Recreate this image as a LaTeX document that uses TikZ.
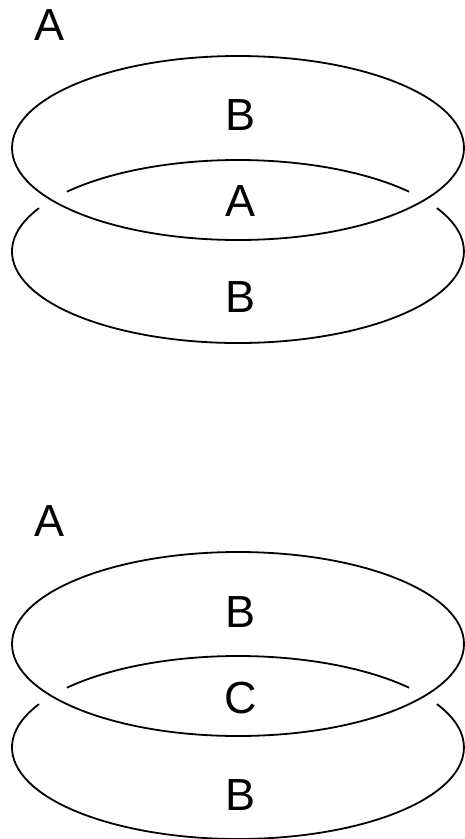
\documentclass[tikz,border=0pt]{standalone}
\usepackage{fontspec}
\setmainfont{Liberation Sans}
\begin{document}
\begin{tikzpicture}[x=1pt,y=1pt,
  ring/.style={line width=1.8pt, black},
  lbl/.style={inner sep=0pt, font=\fontsize{45}{50}\selectfont}]
\useasboundingbox (0,0) rectangle (465,-839);
% ---------- top figure ----------
\node[lbl] (tA) at (49.5,-25.5) {A};
\draw[ring] (238,-148) ellipse [x radius=226pt, y radius=92pt];
\draw[ring] ([shift={(40.8:226pt and 91.5pt)}]238,-251.5)
   arc[start angle=40.8, end angle=139.2, x radius=226pt, y radius=91.5pt];
\draw[ring] ([shift={(151.7:226pt and 91.5pt)}]238,-251.5)
   arc[start angle=151.7, end angle=388.3, x radius=226pt, y radius=91.5pt];
\node[lbl] (tB1) at (240.5,-115.5) {B};
\node[lbl] (tM)  at (240.5,-201.5) {A};
\node[lbl] (tB2) at (240.5,-297.5) {B};
% ---------- bottom figure ----------
\begin{scope}[yshift=-496pt]
\node[lbl] (bA) at (49.5,-25.5) {A};
\draw[ring] (238,-148) ellipse [x radius=226pt, y radius=92pt];
\draw[ring] ([shift={(40.8:226pt and 91.5pt)}]238,-251.5)
   arc[start angle=40.8, end angle=139.2, x radius=226pt, y radius=91.5pt];
\draw[ring] ([shift={(151.7:226pt and 91.5pt)}]238,-251.5)
   arc[start angle=151.7, end angle=388.3, x radius=226pt, y radius=91.5pt];
\node[lbl] (bB1) at (240.5,-116) {B};
\node[lbl] (bM)  at (240.5,-202) {C};
\node[lbl] (bB2) at (240.5,-299) {B};
\end{scope}
\end{tikzpicture}
\end{document}
